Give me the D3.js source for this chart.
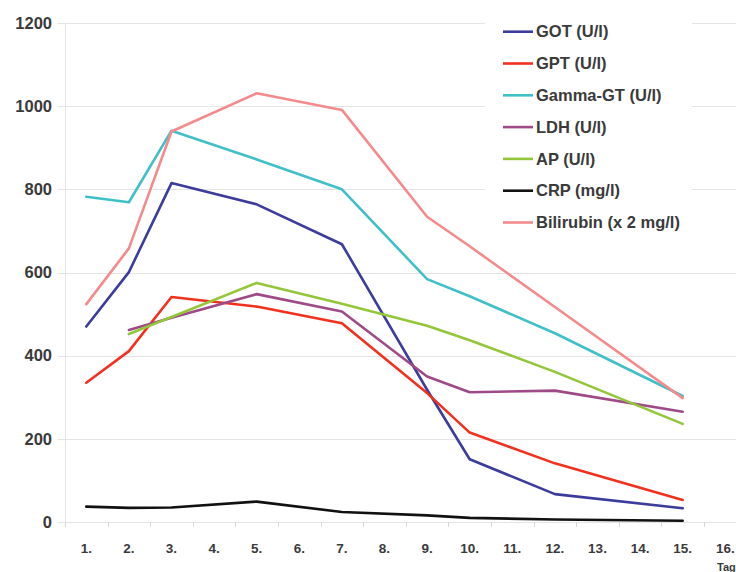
<!DOCTYPE html>
<html>
<head>
<meta charset="utf-8">
<script src="https://cdn.jsdelivr.net/npm/d3@7/dist/d3.min.js"></script>
<style>
  html, body { margin: 0; padding: 0; background: #fff; }
  svg { display: block; font-family: "Liberation Sans", Arial, sans-serif; }
</style>
</head>
<body>
<svg id="chart" width="736" height="572"></svg>
<script>
// ---- data ----
const categories = ["1.","2.","3.","4.","5.","6.","7.","8.","9.","10.","11.","12.","13.","14.","15.","16."];
const days = [1, 2, 3, 5, 7, 9, 10, 12, 15];
const yTicks = [0, 200, 400, 600, 800, 1000, 1200];
const seriesNames = ["GOT (U/l)", "GPT (U/l)", "Gamma-GT (U/l)", "LDH (U/l)", "AP (U/l)", "CRP (mg/l)", "Bilirubin (x 2 mg/l)"];
const gotValues       = [470, 601, 815, 764, 668, 318, 151, 67, 33];
const gptValues       = [335, 411, 541, 518, 478, 310, 215, 141, 53];
const gammaGtValues   = [782, 769, 941, 872, 800, 584, 543, 454, 303];
const ldhValues       = [null, 462, 491, 548, 506, 350, 312, 316, 265];
const apValues        = [null, 452, 493, 575, 525, 472, 437, 361, 236];
const crpValues       = [37, 34, 35, 49, 24, 16, 10, 6, 3];
const bilirubinValues = [524, 658, 939, 1031, 991, 734, 663, 517, 298];
const colors = ["#3c3c9c", "#f2301e", "#3fc0c8", "#9e4a86", "#94c63a", "#111111", "#f48a8c"];
const xTitle = "Tag";

const seriesValues = [gotValues, gptValues, gammaGtValues, ldhValues, apValues, crpValues, bilirubinValues];

// ---- layout ----
const svg = d3.select("#chart");
const plotLeft = 65, plotBottom = 522, plotTop = 23;
const step = 42.6;

const x = d3.scaleBand().domain(categories).range([plotLeft, plotLeft + step * categories.length]).padding(0);
const y = d3.scaleLinear().domain([0, 1200]).range([plotBottom, plotTop]);

// gridlines
svg.append("g").selectAll("line").data(yTicks).join("line")
  .attr("x1", plotLeft - 7).attr("x2", 736)
  .attr("y1", d => Math.round(y(d)) + 0.5).attr("y2", d => Math.round(y(d)) + 0.5)
  .attr("stroke", "#e4e4e4").attr("stroke-width", 1);

// y axis line
svg.append("line")
  .attr("x1", plotLeft + 0.5).attr("x2", plotLeft + 0.5)
  .attr("y1", plotTop).attr("y2", plotBottom + 5)
  .attr("stroke", "#e4e4e4");

// x ticks (category boundaries)
svg.append("g").selectAll("line").data(categories).join("line")
  .attr("x1", d => Math.round(x(d)) + 0.5).attr("x2", d => Math.round(x(d)) + 0.5)
  .attr("y1", plotBottom).attr("y2", plotBottom + 5)
  .attr("stroke", "#d8d8d8");

// y labels
svg.append("g").selectAll("text").data(yTicks).join("text")
  .attr("x", 52).attr("y", d => y(d))
  .attr("dy", "0.35em")
  .attr("text-anchor", "end")
  .attr("font-size", 16.5).attr("font-weight", "bold").attr("fill", "#3a3a3a")
  .text(d => d);

// x labels
svg.append("g").selectAll("text").data(categories).join("text")
  .attr("x", d => x(d) + x.bandwidth() / 2).attr("y", 548)
  .attr("dy", "0.35em")
  .attr("text-anchor", "middle")
  .attr("font-size", 13.5).attr("font-weight", "bold").attr("fill", "#3a3a3a")
  .text(d => d);

// x title (cut off at the edge)
svg.append("text")
  .attr("x", 717).attr("y", 571)
  .attr("font-size", 11).attr("font-weight", "bold").attr("fill", "#3a3a3a")
  .text(xTitle);

// lines
const line = d3.line()
  .x(d => x(categories[d.day - 1]) + x.bandwidth() / 2)
  .y(d => y(d.v));

seriesValues.forEach((vals, i) => {
  const pts = days.map((day, j) => ({ day, v: vals[j] })).filter(p => p.v != null);
  svg.append("path")
    .datum(pts)
    .attr("d", line)
    .attr("fill", "none")
    .attr("stroke", colors[i])
    .attr("stroke-width", 2.6)
    .attr("stroke-linejoin", "round")
    .attr("stroke-linecap", "round");
});

// legend
const lg = svg.append("g");
lg.append("rect").attr("x", 485).attr("y", 8).attr("width", 207).attr("height", 232).attr("fill", "#fff");
seriesNames.forEach((name, i) => {
  const ly = 31.7 + i * 31.8;
  lg.append("line")
    .attr("x1", 503).attr("x2", 533).attr("y1", ly).attr("y2", ly)
    .attr("stroke", colors[i]).attr("stroke-width", 2.6);
  lg.append("text")
    .attr("x", 536).attr("y", ly).attr("dy", "0.35em")
    .attr("font-size", 16.5).attr("font-weight", "bold").attr("fill", "#3a3a3a")
    .text(name);
});
</script>
</body>
</html>
